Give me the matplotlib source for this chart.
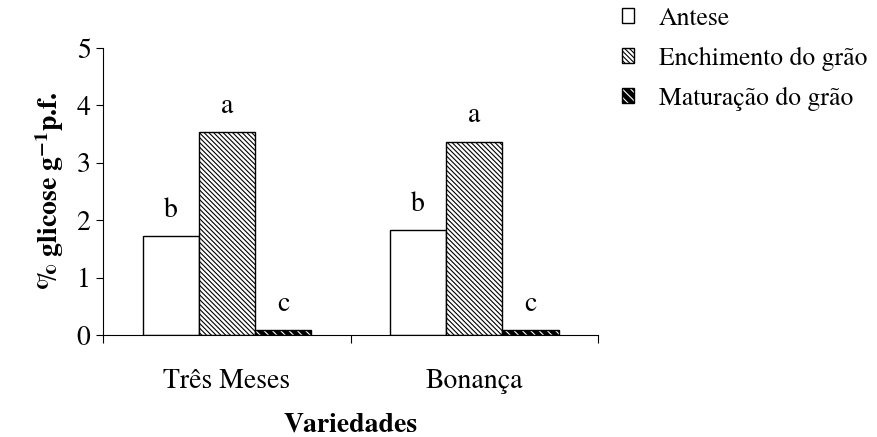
import matplotlib.pyplot as plt
import numpy as np
from matplotlib.patches import Patch

variedades = ["Três Meses", "Bonança"]
fases = ["Antese", "Enchimento do grão", "Maturação do grão"]
antese = [1.72, 1.83]
enchimento = [3.54, 3.37]
maturacao = [0.09, 0.09]
letras = [["b", "b"], ["a", "a"], ["c", "c"]]

plt.rcParams['font.family'] = ['TeX Gyre Termes', 'Liberation Serif', 'DejaVu Serif']
plt.rcParams['mathtext.fontset'] = 'stix'
plt.rcParams['hatch.linewidth'] = 0.8

fig = plt.figure(figsize=(8.77, 4.37), dpi=100)
ax = fig.add_axes([0.1175, 0.2334, 0.5645, 0.6566])

x = np.arange(len(variedades))
w = 0.227
fs = 20

# antese: branco
ax.bar(x - w, antese, w, facecolor="white", edgecolor="black", linewidth=1)
# enchimento: listras pretas finas sobre branco
ax.bar(x, enchimento, w, facecolor="white", edgecolor="black", linewidth=1, hatch="\\\\\\\\\\\\\\")
# maturacao: fundo preto com listras brancas
ax.bar(x + w, maturacao, w, facecolor="black", edgecolor="white", linewidth=0, hatch="\\\\\\\\")
ax.bar(x + w, maturacao, w, facecolor="none", edgecolor="black", linewidth=1)

for i, vals in enumerate([antese, enchimento, maturacao]):
    for p, v, l in zip(x + (i - 1) * w, vals, letras[i]):
        ax.text(p, v + 0.45, l, ha="center", va="center", fontsize=fs)

ax.set_xlim(-0.5, 1.5)
ax.set_ylim(0, 5)
ax.set_yticks(range(6))
ax.tick_params(axis="y", labelsize=fs, direction="out", length=5, width=0.8, pad=4)
ax.set_xticks([-0.5, 0.5, 1.5])
ax.set_xticklabels([])
ax.set_xticks(x, minor=True)
ax.set_xticklabels(variedades, minor=True, fontsize=fs)
ax.tick_params(axis="x", which="major", direction="out", length=6, width=0.8)
ax.tick_params(axis="x", which="minor", length=0, pad=24)
ax.spines["top"].set_visible(False)
ax.spines["right"].set_visible(False)
ax.spines["left"].set_linewidth(0.8)
ax.spines["bottom"].set_linewidth(0.8)

ax.set_xlabel("Variedades", fontsize=fs, fontweight="bold", labelpad=14)
ax.set_ylabel("% glicose g$^{\\mathbf{-1}}$p.f.", fontsize=fs, fontweight="bold", labelpad=8)

h1 = Patch(facecolor="white", edgecolor="black", linewidth=1)
h2 = Patch(facecolor="white", edgecolor="black", linewidth=1, hatch="\\\\\\\\\\\\\\")
h3 = (Patch(facecolor="black", edgecolor="white", linewidth=0, hatch="\\\\\\\\"),
      Patch(facecolor="none", edgecolor="black", linewidth=1))
fig.legend([h1, h2, h3], fases, loc="upper left", bbox_to_anchor=(0.709, 0.985),
           frameon=False, fontsize=18.5, handlelength=0.48, handleheight=0.48,
           handletextpad=0.95, labelspacing=0.62, borderpad=0, borderaxespad=0)

plt.savefig("out.png", dpi=100)
